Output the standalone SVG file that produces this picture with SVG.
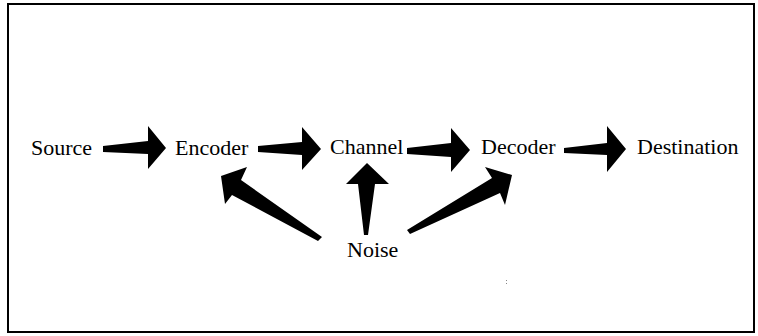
<svg xmlns="http://www.w3.org/2000/svg" width="758" height="336" viewBox="0 0 758 336">
<style>
.lbl{font-family:"Liberation Serif","Times New Roman",serif;font-size:22px;fill:#000}
.arr{fill:#000;stroke:none}
</style>
<rect x="0" y="0" width="758" height="336" fill="#fff"/>
<rect x="8" y="4" width="746" height="328" fill="none" stroke="#000" stroke-width="2"/>
<g id="connectors">
<polygon class="arr" points="103,146 148,141 148,126 166,148 148,169 148,154 103,152"/>
<polygon class="arr" points="258,146 302,142 302,127 321,149 302,170 302,155 258,152"/>
<polygon class="arr" points="407,148 451,143 451,128 470,150 451,172 451,157 407,154"/>
<polygon class="arr" points="564,148 607,143 607,126 626,149 607,172 607,155 564,153"/>
<polygon class="arr" points="221,176 247,167 241,180 322,237 318,241 232,195 225,204"/>
<polygon class="arr" points="367,163 389,184 375,184 368,235 364,235 358,184 346,184"/>
<polygon class="arr" points="512,175 505,205 500,193 410,234 407,230 492,178 485,167"/>
</g>
<g id="source"><text class="lbl" x="31" y="155">Source</text></g>
<g id="encoder"><text class="lbl" x="175" y="155">Encoder</text></g>
<g id="channel"><text class="lbl" x="330" y="154">Channel</text></g>
<g id="decoder"><text class="lbl" x="481" y="154">Decoder</text></g>
<g id="destination"><text class="lbl" x="637" y="154">Destination</text></g>
<g id="noise"><text class="lbl" x="347" y="257">Noise</text></g>
<rect x="506" y="280" width="1" height="1" fill="#888"/>
<rect x="506" y="283" width="1" height="1" fill="#888"/>
</svg>
